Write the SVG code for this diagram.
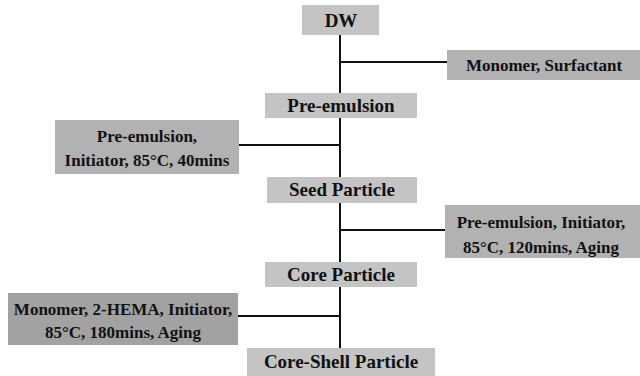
<svg xmlns="http://www.w3.org/2000/svg" width="640" height="376" viewBox="0 0 640 376">
<style>
.main{fill:#c4c4c4}
.side{fill:#b2b2b2}
.dark{fill:#a2a2a2}
.t{font-family:'Liberation Serif','DejaVu Serif',serif;font-weight:bold;fill:#111;text-anchor:middle}
.tm{font-size:19px}
.ts{font-size:17px}
.c{stroke:#111;stroke-width:2;fill:none}
</style>
<rect width="640" height="376" fill="#fff"/>
<g id="connectors">
<path class="c" d="M340 35V93M340 118V177M340 203V262M340 287V348"/>
<path class="c" d="M340 62H447M239 145H340M340 230H445M238 316H340"/>
</g>
<g id="dw"><rect class="main" x="302" y="5" width="77" height="30"/><text class="t tm" x="341" y="27">DW</text></g>
<g id="monomer-surfactant"><rect class="side" x="447" y="50" width="193" height="30"/><text class="t ts" x="544" y="71">Monomer, Surfactant</text></g>
<g id="pre-emulsion"><rect class="main" x="265" y="93" width="152" height="25"/><text class="t tm" x="341" y="112">Pre-emulsion</text></g>
<g id="step1"><rect class="side" x="55" y="120" width="184" height="54"/><text class="t ts" x="147" y="142">Pre-emulsion,</text><text class="t ts" x="147" y="166">Initiator, 85°C, 40mins</text></g>
<g id="seed"><rect class="main" x="267" y="177" width="150" height="26"/><text class="t tm" x="342" y="196">Seed Particle</text></g>
<g id="step2"><rect class="side" x="445" y="205" width="195" height="53"/><text class="t ts" x="541" y="228">Pre-emulsion, Initiator,</text><text class="t ts" x="541" y="253">85°C, 120mins, Aging</text></g>
<g id="core"><rect class="main" x="265" y="262" width="152" height="25"/><text class="t tm" x="341" y="281">Core Particle</text></g>
<g id="step3"><rect class="dark" x="8" y="293" width="230" height="52"/><text class="t ts" x="123" y="315">Monomer, 2-HEMA, Initiator,</text><text class="t ts" x="123" y="338">85°C, 180mins, Aging</text></g>
<g id="core-shell"><rect class="main" x="247" y="348" width="188" height="28"/><text class="t tm" x="341" y="368">Core-Shell Particle</text></g>
</svg>
